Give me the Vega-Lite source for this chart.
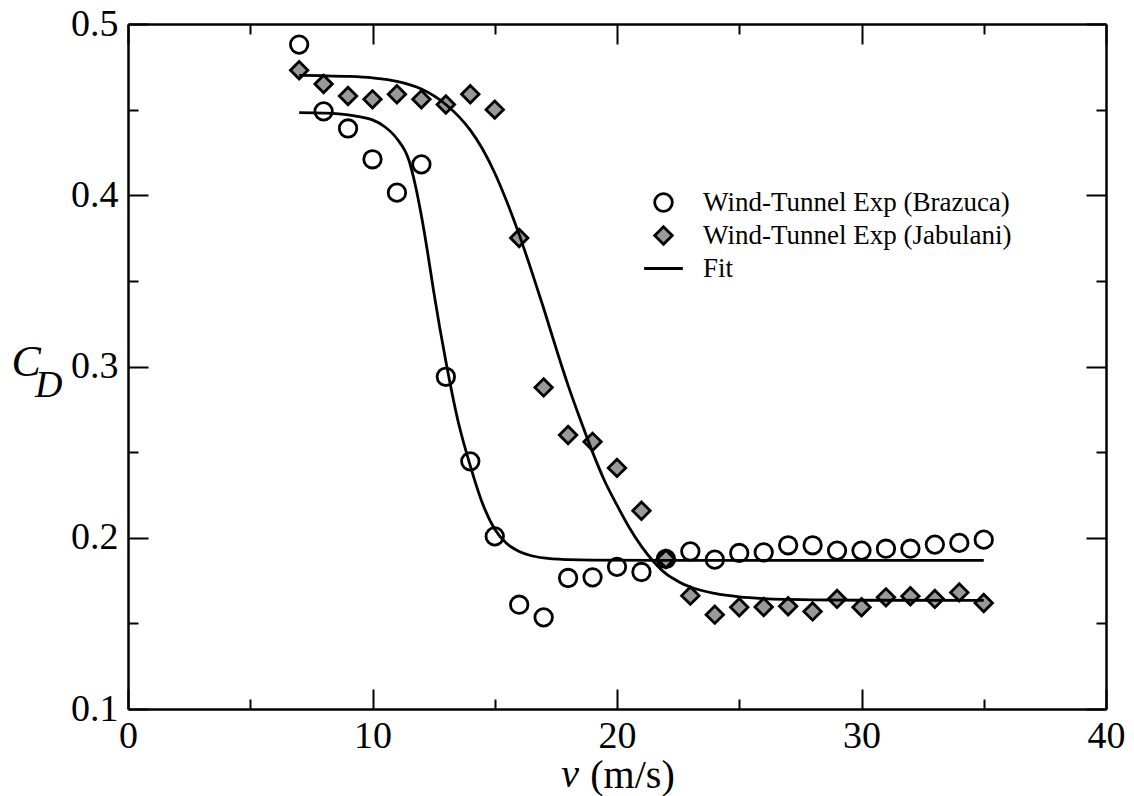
{
  "$schema": "https://vega.github.io/schema/vega-lite/v6.json",
  "width": 978,
  "height": 685,
  "autosize": "none",
  "padding": {"left": 128, "top": 24, "right": 28, "bottom": 87},
  "background": "white",
  "config": {
    "font": "Liberation Serif",
    "view": {"stroke": null},
    "axis": {
      "grid": false,
      "domainColor": "black",
      "domainWidth": 2.5,
      "tickColor": "black",
      "tickWidth": 2,
      "labelFont": "Liberation Serif",
      "labelFontSize": 38,
      "labelColor": "black",
      "titleFont": "Liberation Serif",
      "titleColor": "black",
      "titleFontWeight": "normal",
      "labelFlush": false,
      "labelOverlap": false,
      "labelBound": false
    },
    "legend": {"labelFont": "Liberation Serif", "labelLimit": 0}
  },
  "datasets": {
    "points": [
      {"v": 7, "cd": 0.488, "series": "Wind-Tunnel Exp (Brazuca)"},
      {"v": 8, "cd": 0.449, "series": "Wind-Tunnel Exp (Brazuca)"},
      {"v": 9, "cd": 0.439, "series": "Wind-Tunnel Exp (Brazuca)"},
      {"v": 10, "cd": 0.421, "series": "Wind-Tunnel Exp (Brazuca)"},
      {"v": 11, "cd": 0.4015, "series": "Wind-Tunnel Exp (Brazuca)"},
      {"v": 12, "cd": 0.418, "series": "Wind-Tunnel Exp (Brazuca)"},
      {"v": 13, "cd": 0.294, "series": "Wind-Tunnel Exp (Brazuca)"},
      {"v": 14, "cd": 0.2446, "series": "Wind-Tunnel Exp (Brazuca)"},
      {"v": 15, "cd": 0.2008, "series": "Wind-Tunnel Exp (Brazuca)"},
      {"v": 16, "cd": 0.1609, "series": "Wind-Tunnel Exp (Brazuca)"},
      {"v": 17, "cd": 0.1535, "series": "Wind-Tunnel Exp (Brazuca)"},
      {"v": 18, "cd": 0.1765, "series": "Wind-Tunnel Exp (Brazuca)"},
      {"v": 19, "cd": 0.1769, "series": "Wind-Tunnel Exp (Brazuca)"},
      {"v": 20, "cd": 0.183, "series": "Wind-Tunnel Exp (Brazuca)"},
      {"v": 21, "cd": 0.18, "series": "Wind-Tunnel Exp (Brazuca)"},
      {"v": 22, "cd": 0.1876, "series": "Wind-Tunnel Exp (Brazuca)"},
      {"v": 23, "cd": 0.192, "series": "Wind-Tunnel Exp (Brazuca)"},
      {"v": 24, "cd": 0.1872, "series": "Wind-Tunnel Exp (Brazuca)"},
      {"v": 25, "cd": 0.1911, "series": "Wind-Tunnel Exp (Brazuca)"},
      {"v": 26, "cd": 0.1915, "series": "Wind-Tunnel Exp (Brazuca)"},
      {"v": 27, "cd": 0.1956, "series": "Wind-Tunnel Exp (Brazuca)"},
      {"v": 28, "cd": 0.1956, "series": "Wind-Tunnel Exp (Brazuca)"},
      {"v": 29, "cd": 0.1925, "series": "Wind-Tunnel Exp (Brazuca)"},
      {"v": 30, "cd": 0.1925, "series": "Wind-Tunnel Exp (Brazuca)"},
      {"v": 31, "cd": 0.1936, "series": "Wind-Tunnel Exp (Brazuca)"},
      {"v": 32, "cd": 0.1936, "series": "Wind-Tunnel Exp (Brazuca)"},
      {"v": 33, "cd": 0.196, "series": "Wind-Tunnel Exp (Brazuca)"},
      {"v": 34, "cd": 0.197, "series": "Wind-Tunnel Exp (Brazuca)"},
      {"v": 35, "cd": 0.1989, "series": "Wind-Tunnel Exp (Brazuca)"},
      {"v": 7, "cd": 0.473, "series": "Wind-Tunnel Exp (Jabulani)"},
      {"v": 8, "cd": 0.465, "series": "Wind-Tunnel Exp (Jabulani)"},
      {"v": 9, "cd": 0.458, "series": "Wind-Tunnel Exp (Jabulani)"},
      {"v": 10, "cd": 0.456, "series": "Wind-Tunnel Exp (Jabulani)"},
      {"v": 11, "cd": 0.459, "series": "Wind-Tunnel Exp (Jabulani)"},
      {"v": 12, "cd": 0.456, "series": "Wind-Tunnel Exp (Jabulani)"},
      {"v": 13, "cd": 0.453, "series": "Wind-Tunnel Exp (Jabulani)"},
      {"v": 14, "cd": 0.459, "series": "Wind-Tunnel Exp (Jabulani)"},
      {"v": 15, "cd": 0.45, "series": "Wind-Tunnel Exp (Jabulani)"},
      {"v": 16, "cd": 0.375, "series": "Wind-Tunnel Exp (Jabulani)"},
      {"v": 17, "cd": 0.2878, "series": "Wind-Tunnel Exp (Jabulani)"},
      {"v": 18, "cd": 0.26, "series": "Wind-Tunnel Exp (Jabulani)"},
      {"v": 19, "cd": 0.256, "series": "Wind-Tunnel Exp (Jabulani)"},
      {"v": 20, "cd": 0.2408, "series": "Wind-Tunnel Exp (Jabulani)"},
      {"v": 21, "cd": 0.2158, "series": "Wind-Tunnel Exp (Jabulani)"},
      {"v": 22, "cd": 0.1876, "series": "Wind-Tunnel Exp (Jabulani)"},
      {"v": 23, "cd": 0.1662, "series": "Wind-Tunnel Exp (Jabulani)"},
      {"v": 24, "cd": 0.1551, "series": "Wind-Tunnel Exp (Jabulani)"},
      {"v": 25, "cd": 0.1594, "series": "Wind-Tunnel Exp (Jabulani)"},
      {"v": 26, "cd": 0.1596, "series": "Wind-Tunnel Exp (Jabulani)"},
      {"v": 27, "cd": 0.16, "series": "Wind-Tunnel Exp (Jabulani)"},
      {"v": 28, "cd": 0.157, "series": "Wind-Tunnel Exp (Jabulani)"},
      {"v": 29, "cd": 0.1643, "series": "Wind-Tunnel Exp (Jabulani)"},
      {"v": 30, "cd": 0.1594, "series": "Wind-Tunnel Exp (Jabulani)"},
      {"v": 31, "cd": 0.1652, "series": "Wind-Tunnel Exp (Jabulani)"},
      {"v": 32, "cd": 0.1658, "series": "Wind-Tunnel Exp (Jabulani)"},
      {"v": 33, "cd": 0.1643, "series": "Wind-Tunnel Exp (Jabulani)"},
      {"v": 34, "cd": 0.1681, "series": "Wind-Tunnel Exp (Jabulani)"},
      {"v": 35, "cd": 0.1619, "series": "Wind-Tunnel Exp (Jabulani)"}
    ],
    "fits": [
      {"v": 7, "cd": 0.4483, "fit": "Brazuca"},
      {"v": 8, "cd": 0.448, "fit": "Brazuca"},
      {"v": 9, "cd": 0.447, "fit": "Brazuca"},
      {"v": 9.5, "cd": 0.4458, "fit": "Brazuca"},
      {"v": 10, "cd": 0.444, "fit": "Brazuca"},
      {"v": 10.5, "cd": 0.44, "fit": "Brazuca"},
      {"v": 11, "cd": 0.433, "fit": "Brazuca"},
      {"v": 11.5, "cd": 0.42, "fit": "Brazuca"},
      {"v": 11.75, "cd": 0.406, "fit": "Brazuca"},
      {"v": 12, "cd": 0.388, "fit": "Brazuca"},
      {"v": 12.25, "cd": 0.367, "fit": "Brazuca"},
      {"v": 12.5, "cd": 0.344, "fit": "Brazuca"},
      {"v": 13, "cd": 0.303, "fit": "Brazuca"},
      {"v": 13.5, "cd": 0.268, "fit": "Brazuca"},
      {"v": 14, "cd": 0.242, "fit": "Brazuca"},
      {"v": 14.5, "cd": 0.22, "fit": "Brazuca"},
      {"v": 15, "cd": 0.205, "fit": "Brazuca"},
      {"v": 15.5, "cd": 0.1965, "fit": "Brazuca"},
      {"v": 16, "cd": 0.192, "fit": "Brazuca"},
      {"v": 16.5, "cd": 0.1895, "fit": "Brazuca"},
      {"v": 17, "cd": 0.1882, "fit": "Brazuca"},
      {"v": 18, "cd": 0.1872, "fit": "Brazuca"},
      {"v": 19, "cd": 0.1869, "fit": "Brazuca"},
      {"v": 22, "cd": 0.1868, "fit": "Brazuca"},
      {"v": 35, "cd": 0.1868, "fit": "Brazuca"},
      {"v": 7, "cd": 0.47, "fit": "Jabulani"},
      {"v": 8, "cd": 0.4698, "fit": "Jabulani"},
      {"v": 9, "cd": 0.4694, "fit": "Jabulani"},
      {"v": 10, "cd": 0.4685, "fit": "Jabulani"},
      {"v": 11, "cd": 0.4665, "fit": "Jabulani"},
      {"v": 12, "cd": 0.462, "fit": "Jabulani"},
      {"v": 13, "cd": 0.453, "fit": "Jabulani"},
      {"v": 14, "cd": 0.438, "fit": "Jabulani"},
      {"v": 14.5, "cd": 0.427, "fit": "Jabulani"},
      {"v": 15, "cd": 0.413, "fit": "Jabulani"},
      {"v": 15.5, "cd": 0.396, "fit": "Jabulani"},
      {"v": 16, "cd": 0.377, "fit": "Jabulani"},
      {"v": 16.5, "cd": 0.356, "fit": "Jabulani"},
      {"v": 17, "cd": 0.334, "fit": "Jabulani"},
      {"v": 17.5, "cd": 0.311, "fit": "Jabulani"},
      {"v": 18, "cd": 0.289, "fit": "Jabulani"},
      {"v": 18.5, "cd": 0.269, "fit": "Jabulani"},
      {"v": 19, "cd": 0.25, "fit": "Jabulani"},
      {"v": 19.5, "cd": 0.233, "fit": "Jabulani"},
      {"v": 20, "cd": 0.219, "fit": "Jabulani"},
      {"v": 20.5, "cd": 0.206, "fit": "Jabulani"},
      {"v": 21, "cd": 0.195, "fit": "Jabulani"},
      {"v": 21.5, "cd": 0.186, "fit": "Jabulani"},
      {"v": 22, "cd": 0.179, "fit": "Jabulani"},
      {"v": 22.5, "cd": 0.1745, "fit": "Jabulani"},
      {"v": 23, "cd": 0.1712, "fit": "Jabulani"},
      {"v": 24, "cd": 0.1675, "fit": "Jabulani"},
      {"v": 25, "cd": 0.1655, "fit": "Jabulani"},
      {"v": 26, "cd": 0.1645, "fit": "Jabulani"},
      {"v": 27, "cd": 0.164, "fit": "Jabulani"},
      {"v": 28, "cd": 0.1637, "fit": "Jabulani"},
      {"v": 30, "cd": 0.1635, "fit": "Jabulani"},
      {"v": 35, "cd": 0.1634, "fit": "Jabulani"}
    ]
  },
  "layer": [
    {
      "data": {"name": "points"},
      "mark": {"type": "point", "strokeWidth": 2.8, "opacity": 1, "size": 305},
      "encoding": {
        "x": {
          "field": "v", "type": "quantitative",
          "scale": {"domain": [0, 40], "nice": false, "zero": false},
          "axis": {
            "orient": "bottom",
            "values": [0, 5, 10, 15, 20, 25, 30, 35, 40],
            "labelExpr": "datum.value % 10 === 0 ? datum.label : ''",
            "labelFont": "Liberation Serif",
            "tickSize": {"condition": {"test": "datum.value % 10 === 0", "value": -20}, "value": -10},
            "labelPadding": 28,
            "title": "(m/s)",
            "titleFontSize": 40,
            "titleX": 504,
            "titleY": 78,
            "titleBaseline": "alphabetic",
            "titleAlign": "center"
          }
        },
        "y": {
          "field": "cd", "type": "quantitative",
          "scale": {"domain": [0.1, 0.5], "nice": false, "zero": false},
          "axis": {
            "orient": "left",
            "values": [0.1, 0.15, 0.2, 0.25, 0.3, 0.35, 0.4, 0.45, 0.5],
            "labelExpr": "abs(datum.value*10 - round(datum.value*10)) < 0.001 ? format(datum.value, '.1f') : ''",
            "labelFont": "Liberation Serif",
            "tickSize": {"condition": {"test": "abs(datum.value*10 - round(datum.value*10)) < 0.001", "value": -20}, "value": -10},
            "labelPadding": 30,
            "title": "C",
            "titleFontStyle": "italic",
            "titleFontSize": 44,
            "titleAngle": 0,
            "titleAlign": "left",
            "titleBaseline": "alphabetic",
            "titleX": -117,
            "titleY": 351
          }
        },
        "shape": {
          "field": "series", "type": "nominal",
          "scale": {"domain": ["Wind-Tunnel Exp (Brazuca)", "Wind-Tunnel Exp (Jabulani)", "Fit"], "range": ["circle", "diamond", "M-2.2,0L2.2,0"]},
          "legend": {"title": null, "orient": "none", "legendX": 522, "legendY": 165, "labelFont": "Liberation Serif", "labelFontSize": 27, "labelColor": "black", "labelLimit": 0, "symbolSize": 310, "symbolStrokeColor": "black", "symbolStrokeWidth": 2.8, "labelOffset": 26, "rowPadding": 4, "padding": 0, "symbolOpacity": 1}
        },
        "fill": {
          "field": "series", "type": "nominal",
          "scale": {"domain": ["Wind-Tunnel Exp (Brazuca)", "Wind-Tunnel Exp (Jabulani)", "Fit"], "range": ["transparent", "#999999", "transparent"]},
          "legend": {"title": null, "orient": "none", "legendX": 522, "legendY": 165, "labelFont": "Liberation Serif", "labelFontSize": 27, "labelColor": "black", "labelLimit": 0, "symbolSize": 310, "symbolStrokeColor": "black", "symbolStrokeWidth": 2.8, "labelOffset": 26, "rowPadding": 4, "padding": 0, "symbolOpacity": 1}
        },
        "stroke": {
          "field": "series", "type": "nominal",
          "scale": {"domain": ["Wind-Tunnel Exp (Brazuca)", "Wind-Tunnel Exp (Jabulani)", "Fit"], "range": ["black", "black", "black"]},
          "legend": {"title": null, "orient": "none", "legendX": 522, "legendY": 165, "labelFont": "Liberation Serif", "labelFontSize": 27, "labelColor": "black", "labelLimit": 0, "symbolSize": 310, "symbolStrokeColor": "black", "symbolStrokeWidth": 2.8, "labelOffset": 26, "rowPadding": 4, "padding": 0, "symbolOpacity": 1}
        }
      }
    },
    {
      "data": {"name": "fits"},
      "mark": {"type": "line", "color": "black", "strokeWidth": 2.8, "interpolate": "monotone"},
      "encoding": {
        "x": {
          "field": "v", "type": "quantitative",
          "scale": {"domain": [0, 40], "nice": false, "zero": false},
          "axis": {
            "orient": "top",
            "values": [0, 5, 10, 15, 20, 25, 30, 35, 40],
            "labels": false,
            "title": null,
            "tickSize": {"condition": {"test": "datum.value % 10 === 0", "value": -20}, "value": -10}
          }
        },
        "y": {
          "field": "cd", "type": "quantitative",
          "scale": {"domain": [0.1, 0.5], "nice": false, "zero": false},
          "axis": {
            "orient": "right",
            "values": [0.1, 0.15, 0.2, 0.25, 0.3, 0.35, 0.4, 0.45, 0.5],
            "labels": false,
            "title": null,
            "tickSize": {"condition": {"test": "abs(datum.value*10 - round(datum.value*10)) < 0.001", "value": -20}, "value": -10}
          }
        },
        "detail": {"field": "fit", "type": "nominal"}
      }
    },
    {
      "data": {"values": [{"label": "v"}]},
      "mark": {"type": "text", "font": "Liberation Serif", "fontStyle": "italic", "fontSize": 40, "color": "black", "align": "center", "baseline": "alphabetic"},
      "encoding": {
        "x": {"datum": 18.08, "type": "quantitative", "scale": {"domain": [0, 40], "nice": false, "zero": false}, "axis": null},
        "y": {"datum": 0.0546, "type": "quantitative", "scale": {"domain": [0.1, 0.5], "nice": false, "zero": false}, "axis": null},
        "text": {"field": "label"}
      }
    },
    {
      "data": {"values": [{"label": "D"}]},
      "mark": {"type": "text", "font": "Liberation Serif", "fontStyle": "italic", "fontSize": 38, "color": "black", "align": "left", "baseline": "alphabetic"},
      "encoding": {
        "x": {"datum": -3.8, "type": "quantitative", "scale": {"domain": [0, 40], "nice": false, "zero": false}, "axis": null},
        "y": {"datum": 0.2823, "type": "quantitative", "scale": {"domain": [0.1, 0.5], "nice": false, "zero": false}, "axis": null},
        "text": {"field": "label"}
      }
    }
  ],
  "resolve": {"axis": {"x": "independent", "y": "independent"}}
}
